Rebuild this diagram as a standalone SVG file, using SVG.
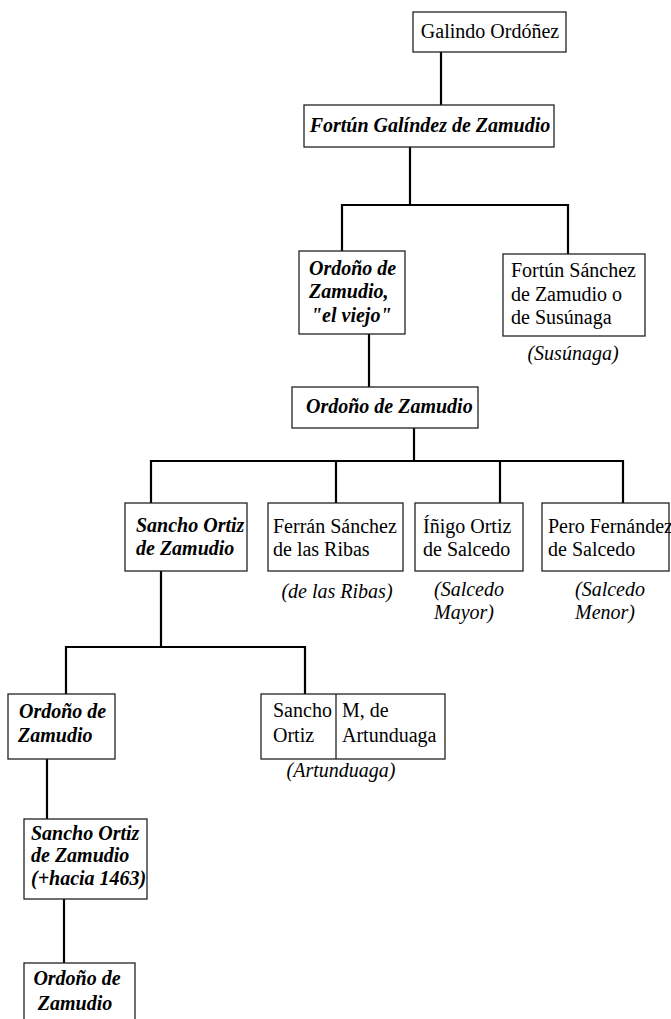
<svg xmlns="http://www.w3.org/2000/svg" width="671" height="1019" viewBox="0 0 671 1019" font-family="'Liberation Serif', Tinos, 'Times New Roman', Times, 'DejaVu Serif', serif" font-size="20">
<style>
  .box { fill: #fff; stroke: #222; stroke-width: 1.3; }
  .conn { fill: none; stroke: #000; stroke-width: 2.2; stroke-linecap: square; }
  text { font-family: 'Liberation Serif', Tinos, 'Times New Roman', Times, 'DejaVu Serif', serif; font-size: 20px; fill: #000; }
  .bi { font-weight: bold; font-style: italic; }
  .it { font-style: italic; }
  .mid { text-anchor: middle; }
</style>
<rect width="671" height="1019" fill="#fff"/>
<g id="connectors">
  <path class="conn" d="M441 52 V105"/>
  <path class="conn" d="M410 147 V205 M342 205 H568 M342 205 V251 M568 205 V254"/>
  <path class="conn" d="M369 334 V387"/>
  <path class="conn" d="M414 428 V461 M151 461 H623 M151 461 V503 M336 461 V503 M500 461 V503 M623 461 V503"/>
  <path class="conn" d="M161 571 V647 M66 647 H305 M66 647 V694 M305 647 V694"/>
  <path class="conn" d="M47 759 V819"/>
  <path class="conn" d="M64 899 V963"/>
</g>
<g id="galindo">
  <rect class="box" x="413" y="12" width="153" height="40"/>
  <text class="mid" x="490" y="38">Galindo Ordóñez</text>
</g>
<g id="fortun-galindez">
  <rect class="box" x="304" y="105" width="250" height="42"/>
  <text class="bi mid" x="430" y="132">Fortún Galíndez de Zamudio</text>
</g>
<g id="ordono-viejo">
  <rect class="box" x="299" y="251" width="106" height="83"/>
  <text class="bi" x="309" y="275">Ordoño de</text>
  <text class="bi" x="309" y="298">Zamudio,</text>
  <text class="bi" x="311" y="322">"el viejo"</text>
</g>
<g id="fortun-sanchez">
  <rect class="box" x="503" y="254" width="142" height="82"/>
  <text x="511" y="277">Fortún Sánchez</text>
  <text x="511" y="301">de Zamudio o</text>
  <text x="511" y="324">de Susúnaga</text>
  <text class="it mid" x="573" y="360">(Susúnaga)</text>
</g>
<g id="ordono-2">
  <rect class="box" x="292" y="387" width="186" height="41"/>
  <text class="bi" x="306" y="413">Ordoño de Zamudio</text>
</g>
<g id="sancho-ortiz">
  <rect class="box" x="125" y="503" width="122" height="68"/>
  <text class="bi" x="136" y="532">Sancho Ortiz</text>
  <text class="bi" x="136" y="555">de Zamudio</text>
</g>
<g id="ferran">
  <rect class="box" x="268" y="503" width="135" height="68"/>
  <text x="273" y="533">Ferrán Sánchez</text>
  <text x="273" y="556">de las Ribas</text>
  <text class="it mid" x="337" y="598">(de las Ribas)</text>
</g>
<g id="inigo">
  <rect class="box" x="415" y="503" width="108" height="68"/>
  <text x="423" y="533">Íñigo Ortiz</text>
  <text x="423" y="556">de Salcedo</text>
  <text class="it" x="434" y="596">(Salcedo</text>
  <text class="it" x="434" y="619">Mayor)</text>
</g>
<g id="pero">
  <rect class="box" x="542" y="503" width="127" height="68"/>
  <text x="548" y="533">Pero Fernández</text>
  <text x="548" y="556">de Salcedo</text>
  <text class="it" x="575" y="596">(Salcedo</text>
  <text class="it" x="575" y="619">Menor)</text>
</g>
<g id="ordono-3">
  <rect class="box" x="8" y="694" width="107" height="65"/>
  <text class="bi" x="19" y="718">Ordoño de</text>
  <text class="bi" x="18" y="742">Zamudio</text>
</g>
<g id="sancho-artunduaga">
  <rect class="box" x="261" y="694" width="184" height="65"/>
  <line x1="336" y1="694" x2="336" y2="759" stroke="#222" stroke-width="1.3"/>
  <text x="273" y="717">Sancho</text>
  <text x="273" y="742">Ortiz</text>
  <text x="342" y="717">M, de</text>
  <text x="342" y="742">Artunduaga</text>
  <text class="it mid" x="341" y="777">(Artunduaga)</text>
</g>
<g id="sancho-1463">
  <rect class="box" x="24" y="819" width="123" height="80"/>
  <text class="bi" x="31" y="840">Sancho Ortiz</text>
  <text class="bi" x="31" y="862">de Zamudio</text>
  <text class="bi" x="31" y="885">(+hacia 1463)</text>
</g>
<g id="ordono-4">
  <rect class="box" x="24" y="963" width="111" height="70"/>
  <text class="bi mid" x="77" y="985">Ordoño de</text>
  <text class="bi mid" x="75" y="1010">Zamudio</text>
</g>
</svg>
